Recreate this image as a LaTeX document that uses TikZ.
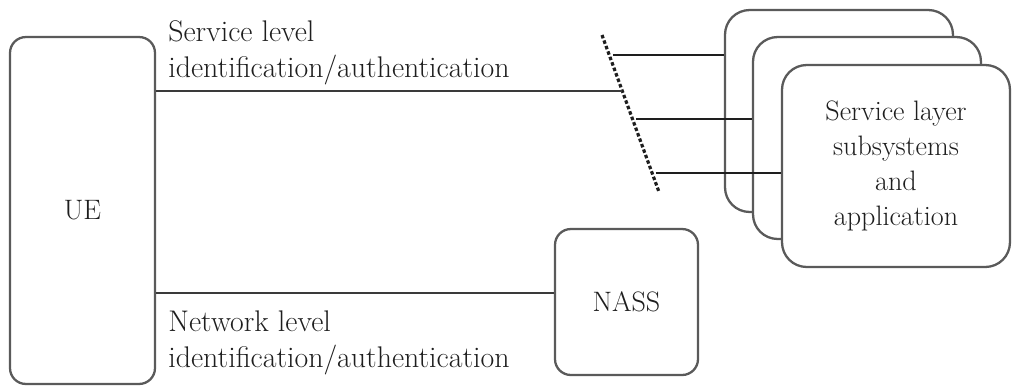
\documentclass[tikz,border=0pt]{standalone}
\usepackage{tikz}
\usepackage{xcolor}
\usetikzlibrary{positioning,calc}
\definecolor{ink}{HTML}{1E1E1E}
\definecolor{frame}{HTML}{5A5A5A}
\definecolor{wire}{HTML}{3A3A3A}
\tikzset{
  entity/.style={draw=frame,fill=white,line width=1.3pt,rounded corners=9pt,
                 align=center,inner sep=0pt,text=ink,
                 font=\fontsize{16}{20}\selectfont},
  stackbox/.style={entity,rounded corners=14pt,
                   minimum width=4.56cm,minimum height=4.04cm},
  lbl/.style={align=left,inner sep=0pt,text=ink,anchor=north west,
              font=\fontsize{17}{20.5}\selectfont},
  thinwire/.style={draw=wire,line width=0.7pt},
  thickwire/.style={draw=ink,line width=1.2pt},
  cutline/.style={draw=ink,line width=1.8pt,dash pattern=on 2pt off 1.3pt}
}

\begin{document}
\begin{tikzpicture}[x=0.02cm,y=-0.02cm]
  \useasboundingbox (0,0) rectangle (1012,387);

  % user equipment and attachment subsystem
  \node[entity,minimum width=2.9cm,minimum height=6.94cm] (ue) at (82.5,210.5) {UE};
  \node[entity,minimum width=2.86cm,minimum height=2.92cm] (nass) at (626.5,302) {NASS};

  % stacked service boxes, back to front
  \node[stackbox] (svcA) at (839,111) {};
  \node[stackbox] (svcB) at (867,138) {};
  \node[stackbox] (svcC) at (896,166) {Service layer\\subsystems\\and\\application};

  % cut through the service connections
  \coordinate (cutT) at (602,35);
  \coordinate (cutB) at (659,192);
  \draw[cutline] (cutT) -- (cutB);
  \coordinate (k0) at ($(cutT)!0.357!(cutB)$);
  \coordinate (k1) at ($(cutT)!0.127!(cutB)$);
  \coordinate (k2) at ($(cutT)!0.535!(cutB)$);
  \coordinate (k3) at ($(cutT)!0.879!(cutB)$);

  % links
  \draw[thinwire] (k0 -| ue.east) -- (k0);
  \draw[thinwire] ([yshift=0.18cm]nass.west -| ue.east) -- ([yshift=0.18cm]nass.west);
  \draw[thickwire] ([xshift=2pt]k1) -- (k1 -| svcA.west);
  \draw[thickwire] ([xshift=2pt]k2) -- (k2 -| svcB.west);
  \draw[thickwire] ([xshift=2pt]k3) -- (k3 -| svcC.west);

  % labels on the links
  \node[lbl] (svclbl) at (168,20) {Service level\\identification/authentication};
  \node[lbl] (netlbl) at (168,310) {Network level\\identification/authentication};
\end{tikzpicture}
\end{document}
